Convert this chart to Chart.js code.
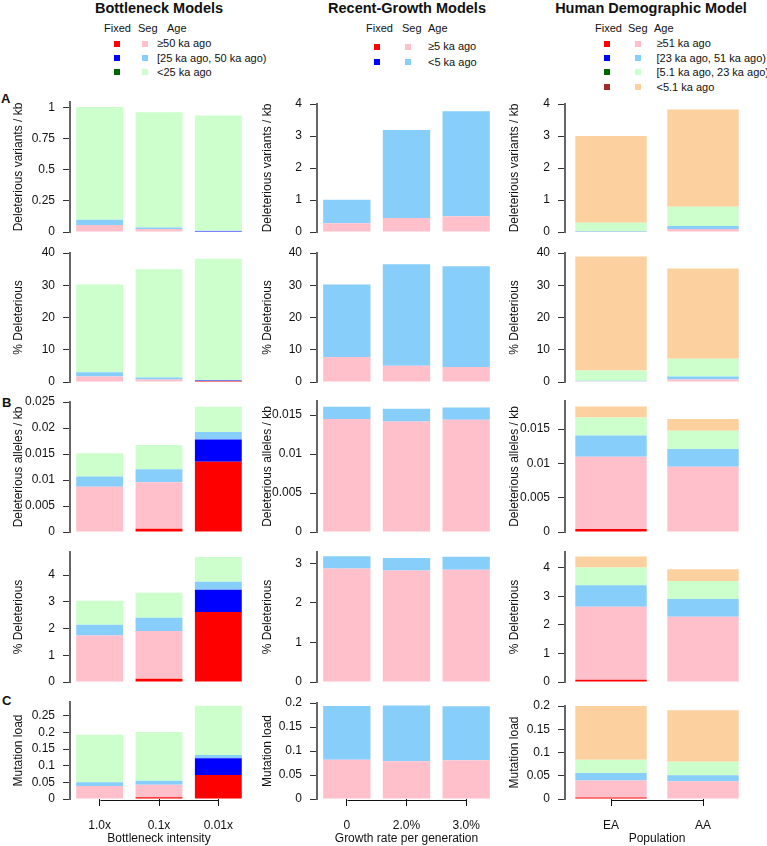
<!DOCTYPE html>
<html lang="en">
<head>
  <meta charset="UTF-8" />
  <title>Deleterious variation: bottleneck, growth and human demographic models</title>
  <script src="https://cdn.jsdelivr.net/npm/chart.js"></script>
  <style>
    * { box-sizing: border-box; }

    body {
      margin: 0;
      width: 767px;
      height: 846px;
      position: relative;
      overflow: hidden;
      background: #fff;
      font-family: 'Liberation Sans', Arial, Helvetica, sans-serif;
      color: #111;
    }

    canvas { position: absolute; }

    .txt {
      position: absolute;
      white-space: nowrap;
      line-height: 1;
    }

    .col-title {
      width: 300px;
      text-align: center;
      font-weight: bold;
      font-size: 14.5px;
    }

    .leg { font-size: 11px; }

    .letter {
      font-weight: bold;
      font-size: 13px;
    }

    .sq {
      position: absolute;
      width: 6px;
      height: 6px;
    }
  </style>
</head>
<body>

  <!-- Column titles -->
  <div class="txt col-title" style="left:9px; top:1px;">Bottleneck Models</div>
  <div class="txt col-title" style="left:257px; top:1px;">Recent-Growth Models</div>
  <div class="txt col-title" style="left:501px; top:1px;">Human Demographic Model</div>

  <!-- Panel letters -->
  <div class="txt letter" style="left:1px; top:92px;">A</div>
  <div class="txt letter" style="left:2px; top:396px;">B</div>
  <div class="txt letter" style="left:2px; top:694px;">C</div>

  <script>
    // ---------- Bottleneck models ----------
    const bnCats = ['1.0x', '0.1x', '0.01x'];
    const bnAges = ['≥50 ka ago', '[25 ka ago,  50 ka ago)', '<25 ka ago'];
    // every inner array is one age class across the three bottleneck intensities
    const bnVarFixed = [[0, 0, 0.005], [0, 0, 0.003], [0, 0, 0]];
    const bnVarSeg = [[0.056, 0.024, 0], [0.043, 0.013, 0.002], [0.909, 0.928, 0.93]];
    const bnPctVarFixed = [[0, 0, 0.3], [0, 0, 0.15], [0, 0, 0]];
    const bnPctVarSeg = [[1.7, 0.8, 0], [1.3, 0.6, 0], [27.2, 33.6, 37.75]];
    const bnAlleleFixed = [[0, 0.00064, 0.01349], [0, 0, 0.00428], [0, 0, 0]];
    const bnAlleleSeg = [[0.00869, 0.00895, 0], [0.00198, 0.00249, 0.00147], [0.00448, 0.00467, 0.00486]];
    const bnPctAlleleFixed = [[0, 0.12, 2.62], [0, 0, 0.83], [0, 0, 0]];
    const bnPctAlleleSeg = [[1.74, 1.79, 0], [0.4, 0.49, 0.3], [0.9, 0.94, 0.92]];
    const bnLoadFixed = [[0, 0.005, 0.072], [0, 0, 0.05], [0, 0, 0]];
    const bnLoadSeg = [[0.039, 0.038, 0], [0.011, 0.012, 0.01], [0.143, 0.146, 0.148]];

    // ---------- Recent-growth models ----------
    const rgCats = ['0', '2.0%', '3.0%'];
    const rgAges = ['≥5 ka ago', '<5 ka ago'];
    const rgNoFixed = [[0, 0, 0], [0, 0, 0]];   // no fixed alleles show up in any growth panel
    const rgVarSeg = [[0.27, 0.44, 0.49], [0.74, 2.75, 3.28]];
    const rgPctVarSeg = [[7.75, 5.05, 4.65], [22.45, 31.45, 31.25]];
    const rgAlleleSeg = [[0.01449, 0.01418, 0.0144], [0.00157, 0.00163, 0.00157]];
    const rgPctAlleleSeg = [[2.87, 2.82, 2.84], [0.31, 0.32, 0.33]];
    const rgLoadSeg = [[0.082, 0.0785, 0.0806], [0.112, 0.1165, 0.1124]];

    // ---------- Human demographic model ----------
    const hdCats = ['EA', 'AA'];
    const hdAges = ['≥51 ka ago', '[23 ka ago, 51 ka ago)', '[5.1 ka ago, 23 ka ago)', '<5.1 ka ago'];
    const hdNoFixed = [[0, 0], [0, 0], [0, 0], [0, 0]];
    const hdVarSeg = [[0.01, 0.09], [0.02, 0.1], [0.26, 0.6], [2.71, 3.04]];
    const hdPctVarSeg = [[0.2, 0.8], [0.2, 0.94], [3.2, 5.46], [35.3, 28.0]];
    const hdAlleleFixed = [[0.00044, 0], [0, 0], [0, 0], [0, 0]];
    const hdAlleleSeg = [[0.01053, 0.00951], [0.0031, 0.00258], [0.00262, 0.00266], [0.0016, 0.00171]];
    const hdPctAlleleFixed = [[0.08, 0], [0, 0], [0, 0], [0, 0]];
    const hdPctAlleleSeg = [[2.55, 2.28], [0.75, 0.62], [0.62, 0.63], [0.39, 0.41]];
    const hdLoadFixed = [[0.003, 0], [0, 0], [0, 0], [0, 0]];
    const hdLoadSeg = [[0.037, 0.038], [0.0157, 0.013], [0.0288, 0.029], [0.1155, 0.111]];

    // ---------- Tick labels ----------
    const ticksUnit = [0, 0.25, 0.5, 0.75, 1];
    const ticks0to4 = [0, 1, 2, 3, 4];
    const ticks0to3 = [0, 1, 2, 3];
    const ticksPct = [0, 10, 20, 30, 40];
    const ticksAlleleBn = [0, 0.005, 0.01, 0.015, 0.02, 0.025];
    const ticksAllele = [0, 0.005, 0.01, 0.015];
    const ticksLoadBn = [0, 0.05, 0.1, 0.15, 0.2, 0.25];
    const ticksLoad = [0, 0.05, 0.1, 0.15, 0.2];

    const rowTitles = ['Deleterious variants / kb', '% Deleterious', 'Deleterious alleles / kb',
                       '% Deleterious', 'Mutation load'];

    const FIXED_COLORS = ['#ff0000', '#0000ff', '#006400', '#a52a2a'];
    const SEG_COLORS = ['#ffc0cb', '#87cefa', '#ccffcc', '#fcd09f'];

    Chart.defaults.font.family = "'Liberation Sans', Arial, Helvetica, sans-serif";
    Chart.defaults.font.size = 12;
    Chart.defaults.color = '#111';

    // chart-area bottom (value 0) of each row
    const rowBottom = [232, 382, 532, 682, 799];
    const PAD = 34;   // room for the tick-label padding Chart.js reserves above/below the y axis

    const columns = [
      {
        cats: bnCats, ages: bnAges, left: 11, axisX: 70, chartRight: 248, barPct: 0.79,
        xTitle: 'Bottleneck intensity',
        legend: { fixedX: 104, segX: 138, ageX: 167, sqFixed: 117, sqSeg: 144.5, textX: 157, rows: [43.7, 58, 72.3] },
        panels: [
          { fixed: bnVarFixed, seg: bnVarSeg, ticks: ticksUnit, top: 102, max: 1.048 },
          { fixed: bnPctVarFixed, seg: bnPctVarSeg, ticks: ticksPct, top: 253, max: 40 },
          { fixed: bnAlleleFixed, seg: bnAlleleSeg, ticks: ticksAlleleBn, top: 402, max: 0.025 },
          { fixed: bnPctAlleleFixed, seg: bnPctAlleleSeg, ticks: ticks0to4, top: 552, max: 4.86 },
          { fixed: bnLoadFixed, seg: bnLoadSeg, ticks: ticksLoadBn, top: 702, max: 0.291 }
        ]
      },
      {
        cats: rgCats, ages: rgAges, left: 260, axisX: 317, chartRight: 496, barPct: 0.793,
        xTitle: 'Growth rate per generation',
        legend: { fixedX: 366, segX: 402, ageX: 428, sqFixed: 377.3, sqSeg: 408.3, textX: 428, rows: [46.7, 62] },
        panels: [
          { fixed: rgNoFixed, seg: rgVarSeg, ticks: ticks0to4, top: 104, max: 4 },
          { fixed: rgNoFixed, seg: rgPctVarSeg, ticks: ticksPct, top: 253, max: 40 },
          { fixed: rgNoFixed, seg: rgAlleleSeg, ticks: ticksAllele, top: 401, max: 0.0168 },
          { fixed: rgNoFixed, seg: rgPctAlleleSeg, ticks: ticks0to3, top: 552, max: 3.29 },
          { fixed: rgNoFixed, seg: rgLoadSeg, ticks: ticksLoad, top: 703, max: 0.2 }
        ]
      },
      {
        cats: hdCats, ages: hdAges, left: 507, axisX: 565, chartRight: 749, barPct: 0.776,
        xTitle: 'Population',
        legend: { fixedX: 595, segX: 628, ageX: 654, sqFixed: 607.3, sqSeg: 638.3, textX: 656.5, rows: [43.7, 58, 72.3, 87] },
        panels: [
          { fixed: hdNoFixed, seg: hdVarSeg, ticks: ticks0to4, top: 104, max: 4 },
          { fixed: hdNoFixed, seg: hdPctVarSeg, ticks: ticksPct, top: 253, max: 40 },
          { fixed: hdAlleleFixed, seg: hdAlleleSeg, ticks: ticksAllele, top: 401, max: 0.0191 },
          { fixed: hdPctAlleleFixed, seg: hdPctAlleleSeg, ticks: ticks0to4, top: 552, max: 4.545 },
          { fixed: hdLoadFixed, seg: hdLoadSeg, ticks: ticksLoad, top: 706, max: 0.2 }
        ]
      }
    ];

    // horizontal part of the R-style bottom axis, from the first to the last category tick
    const bracketLine = {
      id: 'bracketLine',
      afterDraw(chart) {
        const { ctx, chartArea: a, scales: { x } } = chart;
        const xs = chart.data.labels.map((_, i) => Math.round(x.getPixelForValue(i)) + 0.5);
        const by = Math.round(a.bottom) + 1.5;
        ctx.save();
        ctx.strokeStyle = '#111';
        ctx.lineWidth = 1;
        ctx.beginPath();
        ctx.moveTo(xs[0], by);
        ctx.lineTo(xs[xs.length - 1], by);
        ctx.stroke();
        ctx.restore();
      }
    };

    function stackSets(fixed, seg) {
      const sets = [];
      fixed.forEach((d, i) => sets.push({ data: d, backgroundColor: FIXED_COLORS[i], stack: 's' }));
      seg.forEach((d, i) => sets.push({ data: d, backgroundColor: SEG_COLORS[i], stack: 's' }));
      return sets;
    }

    function drawPanel(col, r) {
      const p = col.panels[r];
      const last = r === rowBottom.length - 1;
      const canvasTop = p.top - PAD;
      const canvasBottom = last ? 846 : rowBottom[r] + PAD;

      const cv = document.createElement('canvas');
      cv.width = col.chartRight - col.left;
      cv.height = canvasBottom - canvasTop;
      cv.style.left = col.left + 'px';
      cv.style.top = canvasTop + 'px';
      document.body.appendChild(cv);

      new Chart(cv, {
        type: 'bar',
        data: { labels: col.cats, datasets: stackSets(p.fixed, p.seg) },
        options: {
          responsive: false,
          animation: false,
          layout: { padding: { top: PAD, bottom: last ? 0 : PAD, left: 0, right: 0 } },
          datasets: { bar: { barPercentage: col.barPct, categoryPercentage: 1, borderWidth: 0 } },
          plugins: {
            legend: { display: false },
            tooltip: { enabled: false }
          },
          scales: {
            x: {
              stacked: true,
              display: last,
              grid: { display: true, drawOnChartArea: false, offset: false, drawTicks: true,
                      tickLength: 7, tickColor: '#111', tickWidth: 1 },
              border: { display: false },
              ticks: { padding: 12, maxRotation: 0, autoSkip: false },
              title: { display: last, text: col.xTitle, padding: 0 },
              afterFit: s => { if (last) s.height = 47; }
            },
            y: {
              stacked: true,
              min: 0,
              max: p.max,
              grid: { display: true, drawOnChartArea: false, drawTicks: true,
                      tickLength: 7, tickColor: '#333', tickWidth: 1 },
              border: { display: true, color: '#666', width: 2 },
              afterBuildTicks: s => { s.ticks = p.ticks.map(v => ({ value: v })); },
              ticks: { padding: 8, autoSkip: false, callback: v => String(v) },
              title: { display: true, text: rowTitles[r], padding: 0 },
              afterFit: s => { s.width = col.axisX - col.left; }
            }
          }
        },
        plugins: last ? [bracketLine] : []
      });
    }

    function addText(text, x, cy, cls, size) {
      const el = document.createElement('div');
      el.className = 'txt ' + cls;
      el.textContent = text;
      el.style.left = x + 'px';
      el.style.top = (cy - size / 2) + 'px';
      document.body.appendChild(el);
    }

    function addSquare(cx, cy, color) {
      const el = document.createElement('div');
      el.className = 'sq';
      el.style.left = (cx - 3) + 'px';
      el.style.top = (cy - 3) + 'px';
      el.style.background = color;
      document.body.appendChild(el);
    }

    function addLegend(col) {
      const g = col.legend;
      addText('Fixed', g.fixedX, 28.3, 'leg', 11);
      addText('Seg', g.segX, 28.3, 'leg', 11);
      addText('Age', g.ageX, 28.3, 'leg', 11);
      col.ages.forEach((age, i) => {
        addSquare(g.sqFixed, g.rows[i], FIXED_COLORS[i]);
        addSquare(g.sqSeg, g.rows[i], SEG_COLORS[i]);
        addText(age, g.textX, g.rows[i], 'leg', 11);
      });
    }

    columns.forEach(col => {
      addLegend(col);
      col.panels.forEach((_, r) => drawPanel(col, r));
    });
  </script>
</body>
</html>
